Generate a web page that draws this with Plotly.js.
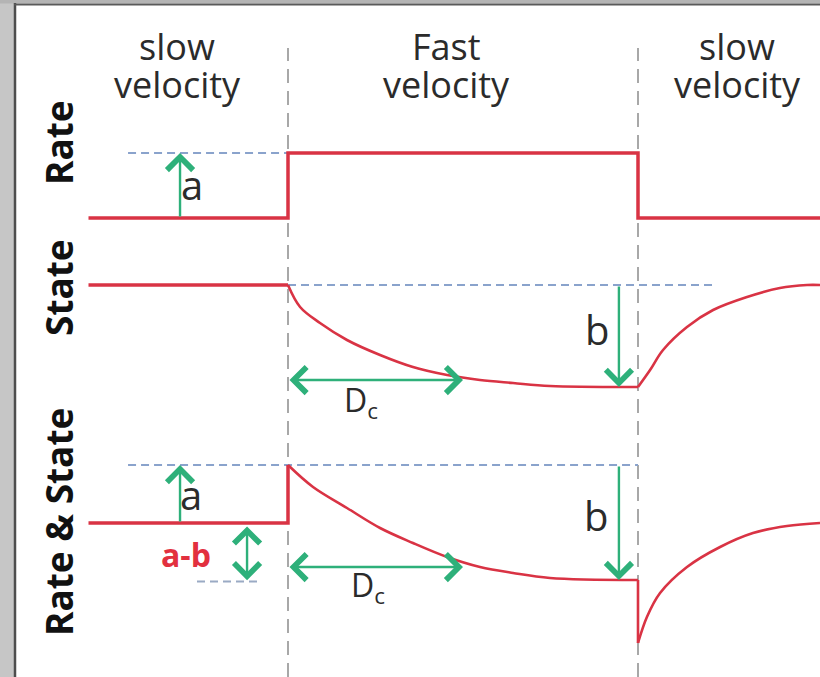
<!DOCTYPE html>
<html>
<head>
<meta charset="utf-8">
<script src="https://cdn.plot.ly/plotly-3.0.1.min.js"></script>
<style>html,body{margin:0;padding:0;background:#fff;}#chart{width:820px;height:677px;}</style>
</head>
<body>
<div id="chart"></div>
<script>
// ---------- DATA (x in units of Dc; y in units of the rate jump) ----------
const phaseTop = ['slow', 'Fast', 'slow'];
const phaseBottom = ['velocity', 'velocity', 'velocity'];
const phaseCenters = [-0.634, 0.903, 2.566];
const rowLabels = ['Rate', 'State', 'Rate & State'];

// Rate panel
const rateX = [-1.14, 0, 0, 2, 2, 3.04];
const rateY = [0, 0, 1, 1, 0, 0];

// State panel
const stateSlowX = [-1.14, 0];
const stateSlowY = [0, 0];
const stateDecayX = [0, 0.069, 0.183, 0.337, 0.526, 0.714, 0.909, 1.097, 1.286, 1.497, 2.0];
const stateDecayY = [0, -0.338, -0.585, -0.846, -1.077, -1.262, -1.385, -1.462, -1.508, -1.554, -1.569];
const stateRecX = [2.0, 2.069, 2.143, 2.28, 2.429, 2.623, 2.811, 2.966, 3.04];
const stateRecY = [-1.569, -1.308, -1.0, -0.646, -0.385, -0.185, -0.046, 0, 0];

// Rate & State panel
const rsSlowX = [-1.14, 0, 0];
const rsSlowY = [0, 0, 0.892];
const rsDecayX = [0, 0.143, 0.337, 0.526, 0.714, 0.909, 1.097, 1.286, 1.497, 2.0];
const rsDecayY = [0.892, 0.554, 0.231, -0.077, -0.308, -0.523, -0.677, -0.769, -0.846, -0.877];
const rsDropX = [2, 2];
const rsDropY = [-0.877, -1.846];
const rsRecX = [2.0, 2.051, 2.126, 2.28, 2.469, 2.657, 2.851, 3.04];
const rsRecY = [-1.846, -1.446, -1.077, -0.677, -0.369, -0.154, -0.046, 0];

// parameter markers
const aRate = 1;
const bState = -1.569;
const aRS = 0.892;
const bRS = -0.877;
const abRS = -0.9;
const Dc = 1;

// ---------- STYLE ----------
const RED = '#d93344';
const GREEN = '#2eb07a';
const BLUE = '#8aa3cc';
const GREY = '#8c8c8c';
const TXT = '#2b2b2b';
const FONT = '"Open Sans", "Liberation Sans", sans-serif';
const W = 820, H = 677;
const px = v => v / W;
const py = v => 1 - v / H;

function line(x, y, yaxis, width, shape) {
  return {x: x, y: y, yaxis: yaxis, type: 'scatter', mode: 'lines',
    line: {color: RED, width: width, shape: shape || 'linear', smoothing: 1},
    hoverinfo: 'skip', cliponaxis: false};
}

const traces = [
  line(rateX, rateY, 'y', 3.5),
  line(stateSlowX, stateSlowY, 'y2', 3.5),
  line(stateDecayX, stateDecayY, 'y2', 2.6, 'spline'),
  line(stateRecX, stateRecY, 'y2', 2.6, 'spline'),
  line(rsSlowX, rsSlowY, 'y3', 3.5),
  line(rsDecayX, rsDecayY, 'y3', 2.6, 'spline'),
  line(rsDropX, rsDropY, 'y3', 2.6),
  line(rsRecX, rsRecY, 'y3', 2.6, 'spline')
];

function dashH(x0, x1, y, yref, color) {
  return {type: 'line', xref: 'x', yref: yref, x0: x0, x1: x1, y0: y, y1: y,
    line: {color: color || BLUE, width: 2, dash: '8px,5px'}, layer: 'below'};
}

const shapes = [
  // frame
  {type: 'rect', xref: 'paper', yref: 'paper', x0: 0, x1: px(14), y0: 0, y1: 1, fillcolor: '#c6c6c6', line: {width: 0}},
  {type: 'rect', xref: 'paper', yref: 'paper', x0: 0, x1: 1, y0: py(3.5), y1: 1, fillcolor: '#b4b4b4', line: {width: 0}},
  {type: 'line', xref: 'paper', yref: 'paper', x0: px(15), x1: px(15), y0: 0, y1: py(3), line: {color: '#4d4d4d', width: 2.5}},
  {type: 'line', xref: 'paper', yref: 'paper', x0: px(14), x1: 1, y0: py(4.5), y1: py(4.5), line: {color: '#5a5a5a', width: 2}},
  // phase boundaries
  {type: 'line', xref: 'x', yref: 'paper', x0: 0, x1: 0, y0: 0, y1: py(48), line: {color: GREY, width: 1.5, dash: '14px,8px'}, layer: 'below'},
  {type: 'line', xref: 'x', yref: 'paper', x0: 2, x1: 2, y0: 0, y1: py(48), line: {color: GREY, width: 1.5, dash: '14px,8px'}, layer: 'below'},
  // reference levels
  dashH(-0.914, 0, aRate, 'y'),
  dashH(0, 2.451, 0, 'y2'),
  dashH(-0.914, 2, aRS, 'y3'),
  dashH(-0.52, -0.177, abRS, 'y3', '#9aaac4')
];

function arrow(x, y, ax, ay, yref, both) {
  const a = {x: x, y: y, ax: ax, ay: ay, xref: 'x', yref: yref, axref: 'x', ayref: yref,
    text: '', showarrow: true, arrowhead: 4, arrowsize: 2.1, arrowwidth: 2.4, arrowcolor: GREEN,
    standoff: 0, startstandoff: 0};
  if (both) { a.arrowside = 'end+start'; a.startarrowhead = 4; a.startarrowsize = 2.1; }
  return a;
}
function label(text, x, y, yref, size, opts) {
  return Object.assign({text: text, x: x, y: y, xref: 'x', yref: yref, showarrow: false,
    xanchor: 'center', yanchor: 'middle',
    font: {family: FONT, size: size, color: TXT}}, opts || {});
}

const annotations = [
  arrow(-0.617, aRate, -0.617, 0, 'y'),
  arrow(1.891, bState, 1.891, 0, 'y2'),
  arrow(Dc, -1.462, 0, -1.462, 'y2', true),
  arrow(-0.617, aRS, -0.617, 0, 'y3'),
  arrow(-0.234, abRS + 0.02, -0.234, -0.03, 'y3', true),
  arrow(1.891, bRS, 1.891, aRS, 'y3'),
  arrow(Dc, -0.677, 0, -0.677, 'y3', true),
  label('a', -0.549, 0.523, 'y', 40),
  label('b', 1.766, -0.677, 'y2', 40),
  label('D<sub>c</sub>', 0.309, -1.8, 'y2', 32, {xanchor: 'left'}),
  label('a', -0.555, 0.446, 'y3', 40),
  label('a-b', -0.583, -0.492, 'y3', 32, {font: {family: FONT, size: 32, color: '#e2303f', weight: 'bold'}}),
  label('b', 1.76, 0.108, 'y3', 40),
  label('D<sub>c</sub>', 0.349, -0.985, 'y3', 32, {xanchor: 'left'})
];

phaseCenters.forEach((c, i) => {
  annotations.push({text: phaseTop[i], x: c, y: py(47), xref: 'x', yref: 'paper', showarrow: false,
    xanchor: 'center', yanchor: 'middle', font: {family: FONT, size: 36, color: TXT}});
  annotations.push({text: phaseBottom[i], x: c, y: py(84), xref: 'x', yref: 'paper', showarrow: false,
    xanchor: 'center', yanchor: 'middle', font: {family: FONT, size: 36, color: TXT}});
});
const rowCenters = [142, 287, 522];
rowLabels.forEach((t, i) => {
  annotations.push({text: t, x: px(58), y: py(rowCenters[i]), xref: 'paper', yref: 'paper', showarrow: false,
    xanchor: 'center', yanchor: 'middle',
    textangle: -90, font: {family: FONT, size: 37, color: '#111', weight: 'bold'}});
});

const hidden = {visible: false, fixedrange: true};
const layout = {
  width: W, height: H,
  margin: {l: 0, r: 0, t: 0, b: 0, pad: 0},
  paper_bgcolor: '#ffffff', plot_bgcolor: '#ffffff',
  showlegend: false,
  xaxis: Object.assign({range: [-288 / 175, (820 - 288) / 175], domain: [0, 1]}, hidden),
  yaxis: Object.assign({range: [(218 - 677) / 65, 218 / 65], domain: [0, 1]}, hidden),
  yaxis2: Object.assign({range: [(285 - 677) / 65, 285 / 65], overlaying: 'y'}, hidden),
  yaxis3: Object.assign({range: [(523 - 677) / 65, 523 / 65], overlaying: 'y'}, hidden),
  shapes: shapes,
  annotations: annotations
};

Plotly.newPlot('chart', traces, layout, {staticPlot: true, displayModeBar: false});
</script>
</body>
</html>
